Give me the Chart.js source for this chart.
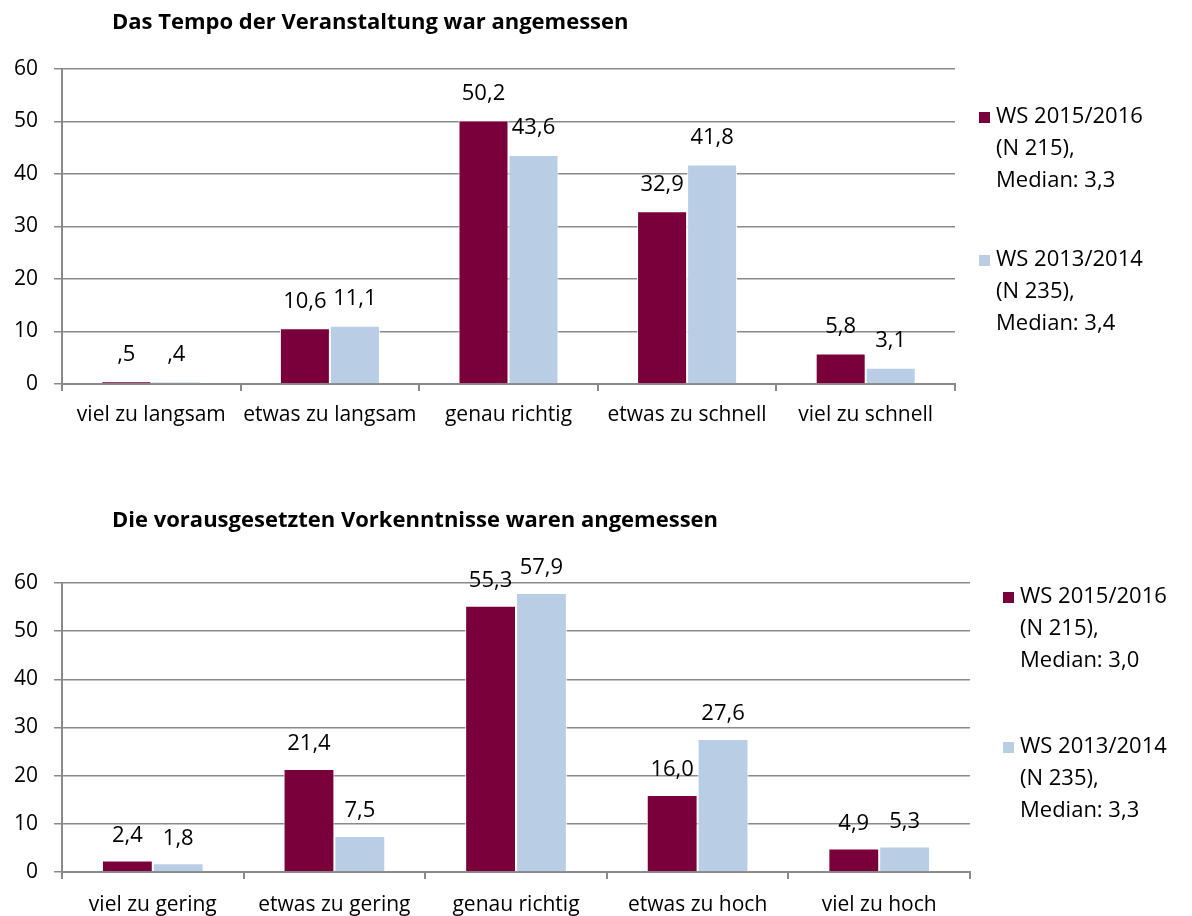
<!DOCTYPE html>
<html>
<head>
<meta charset="utf-8">
<script src="https://cdn.jsdelivr.net/npm/chart.js@4"></script>
<style>
  html, body { margin: 0; padding: 0; background: #fff; }
  .box { position: absolute; left: 0; width: 1192px; height: 458px; }
  #top { top: 0; }
  #bottom { top: 458px; }
</style>
</head>
<body>
<div class="box" id="top"><canvas id="chart1" width="1192" height="458"></canvas></div>
<div class="box" id="bottom"><canvas id="chart2" width="1192" height="458"></canvas></div>
<script>
const title1 = 'Das Tempo der Veranstaltung war angemessen';
const categories1 = ['viel zu langsam', 'etwas zu langsam', 'genau richtig', 'etwas zu schnell', 'viel zu schnell'];
const ws1516_tempo = [0.5, 10.6, 50.2, 32.9, 5.8];
const ws1314_tempo = [0.4, 11.1, 43.6, 41.8, 3.1];
const legend1 = [
    ['WS 2015/2016', '(N 215),', 'Median: 3,3'],
    ['WS 2013/2014', '(N 235),', 'Median: 3,4']
];

const title2 = 'Die vorausgesetzten Vorkenntnisse waren angemessen';
const categories2 = ['viel zu gering', 'etwas zu gering', 'genau richtig', 'etwas zu hoch', 'viel zu hoch'];
const ws1516_vork = [2.4, 21.4, 55.3, 16.0, 4.9];
const ws1314_vork = [1.8, 7.5, 57.9, 27.6, 5.3];
const legend2 = [
    ['WS 2015/2016', '(N 215),', 'Median: 3,0'],
    ['WS 2013/2014', '(N 235),', 'Median: 3,3']
];

const yTicks = [0, 10, 20, 30, 40, 50, 60];

const RED = '#7a003c';
const BLUE = '#b9cde5';
const GRID = '#8a8a8a';
const FONT = '"Open Sans", sans-serif';

function fmt(v) {
    // SPSS style: ,5 instead of 0,5
    let s = v.toFixed(1).replace('.', ',');
    if (s.startsWith('0,')) s = s.slice(1);
    return s;
}

const decorPlugin = {
    id: 'decor',
    afterDatasetsDraw(chart, args, opts) {
        const ctx = chart.ctx;
        ctx.save();
        // value labels
        ctx.fillStyle = '#000';
        ctx.font = '22px ' + FONT;
        ctx.textAlign = 'center';
        ctx.textBaseline = 'middle';
        chart.data.datasets.forEach((ds, i) => {
            const meta = chart.getDatasetMeta(i);
            meta.data.forEach((bar, j) => {
                ctx.fillText(fmt(ds.data[j]), bar.x, bar.y - opts.labelOffset);
            });
        });
        // title
        ctx.font = 'bold 22px ' + FONT;
        ctx.textAlign = 'left';
        ctx.textBaseline = 'alphabetic';
        ctx.fillText(opts.title, opts.titleX, opts.titleY);
        // legend
        const colors = [RED, BLUE];
        ctx.font = '22px ' + FONT;
        ctx.textBaseline = 'middle';
        opts.legend.forEach((lines, i) => {
            const y0 = opts.legendY[i];
            ctx.fillStyle = colors[i];
            ctx.fillRect(opts.legendX, y0 - 5, 11, 11);
            ctx.fillStyle = '#000';
            lines.forEach((line, k) => {
                ctx.fillText(line, opts.legendX + 17, y0 + k * 32);
            });
        });
        ctx.restore();
    }
};

function makeChart(id, cats, a, b, opts) {
    return new Chart(document.getElementById(id), {
        type: 'bar',
        data: {
            labels: cats,
            datasets: [
                { data: a, backgroundColor: RED, borderColor: '#fff', borderWidth: 1 },
                { data: b, backgroundColor: BLUE, borderColor: '#fff', borderWidth: 1 }
            ]
        },
        options: {
            responsive: false,
            animation: false,
            layout: { padding: { top: opts.top, right: opts.right, left: 0, bottom: 0 } },
            datasets: { bar: { categoryPercentage: 0.56, barPercentage: 1 } },
            plugins: {
                legend: { display: false },
                tooltip: { enabled: false },
                decor: opts.decor
            },
            scales: {
                x: {
                    afterFit: s => { s.height = opts.xHeight; },
                    grid: { drawOnChartArea: false, drawTicks: true, tickLength: 7, color: GRID, lineWidth: 2 },
                    border: { color: GRID, width: 2 },
                    ticks: { color: '#000', font: { family: FONT, size: 21 }, padding: opts.xPad, maxRotation: 0 }
                },
                y: {
                    min: 0,
                    max: 60,
                    afterFit: s => { s.width = 62; },
                    afterBuildTicks: s => { s.ticks = yTicks.map(v => ({ value: v })); },
                    grid: { color: GRID, lineWidth: 1.5, tickLength: 8 },
                    border: { color: GRID, width: 2 },
                    ticks: { color: '#000', font: { family: FONT, size: 21 }, padding: 16 }
                }
            }
        },
        plugins: [decorPlugin]
    });
}

makeChart('chart1', categories1, ws1516_tempo, ws1314_tempo, {
    top: 69, right: 237, xHeight: 74, xPad: 11,
    decor: { title: title1, titleX: 112, titleY: 29, legend: legend1, legendX: 979, legendY: [117, 260], labelOffset: 27 }
});

makeChart('chart2', categories2, ws1516_vork, ws1314_vork, {
    top: 125, right: 222, xHeight: 44, xPad: 13,
    decor: { title: title2, titleX: 112, titleY: 69, legend: legend2, legendX: 1003, legendY: [139, 289], labelOffset: 25 }
});
</script>
</body>
</html>
